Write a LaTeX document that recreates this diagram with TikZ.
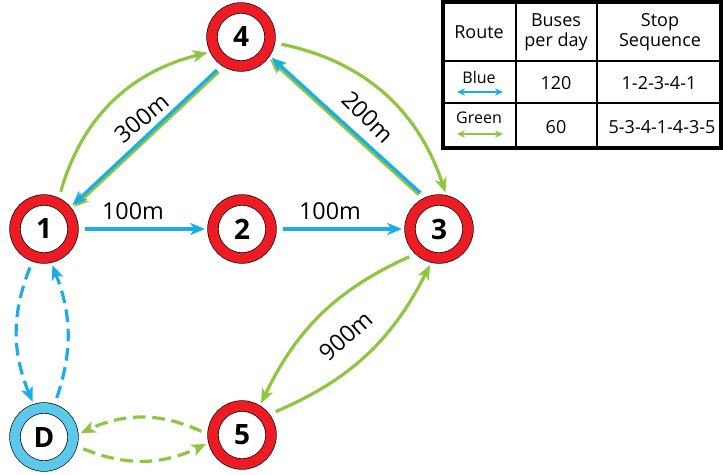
\documentclass[tikz,border=0pt]{standalone}
\usepackage{fontspec}
\setmainfont{Open Sans}
\usetikzlibrary{arrows.meta}
\definecolor{stop-red}{HTML}{ED1C24}
\definecolor{depot-blue}{HTML}{5BC8EC}
\definecolor{route-blue}{HTML}{1AADE6}
\definecolor{route-green}{HTML}{8DC63F}
\tikzset{
    stop-node/.style = {circle, draw=black, line width=0.5pt, double=stop-red, double distance=7.5pt, fill=white, minimum size=43.5pt, inner sep=0pt, outer sep=6pt, font=\fontsize{21}{21}\selectfont\bfseries},
    depot-node/.style = {stop-node, double=depot-blue},
    blue-route/.style = {draw=route-blue, line width=2.4pt, shorten <=3pt, -{Stealth[length=11pt, width=9pt, inset=3pt]}},
    green-route/.style = {blue-route, draw=route-green},
    dashed-route/.style = {dash pattern=on 9.5pt off 5pt},
    dist-label/.style = {inner sep=0pt, font=\fontsize{17.5}{18}\selectfont},
    table-frame/.style = {draw=black, line width=2.6pt},
    table-rule/.style = {draw=black, line width=0.9pt},
    table-text/.style = {inner sep=0pt, align=center, font=\fontsize{13.5}{15}\selectfont},
    legend-text/.style = {inner sep=0pt, font=\fontsize{12}{12}\selectfont},
    legend-arrow/.style = {line width=1.5pt, {Stealth[length=6pt, width=5.5pt]}-{Stealth[length=6pt, width=5.5pt]}},
}
\begin{document}
\begin{tikzpicture}[x=0.75pt, y=-0.75pt]
\useasboundingbox (0,0) rectangle (723,474);

\node[stop-node] (n4) at (241,37) {4};
\node[stop-node] (n1) at (44,229) {1};
\node[stop-node] (n2) at (242,229) {2};
\node[stop-node] (n3) at (439,229) {3};
\node[stop-node] (n5) at (242,435) {5};
\node[depot-node] (nD) at (44,437) {D};

\draw[blue-route] (n1) -- (n2);
\draw[blue-route] (n2) -- (n3);
\draw[green-route, transform canvas={shift={(-1.3pt,-1.3pt)}}] (n3.115) -- (n4.-34);
\draw[blue-route] (n3.115) -- (n4.-34);
\draw[green-route, transform canvas={shift={(1.3pt,-1.3pt)}}] (n4.235) -- (n1.40);
\draw[blue-route] (n4.235) -- (n1.40);
\draw[green-route] (n1.65) to[bend left=30] (n4.205);
\draw[green-route] (n4.-10) to[bend left=30] (n3.80);
\draw[green-route] (n3.225) to[bend right=20] (n5.59);
\draw[green-route] (n5.36) to[bend right=20] (n3.256);
\draw[blue-route, dashed-route] (n1.250) to[bend right=22] (nD.108);
\draw[blue-route, dashed-route] (nD.72) to[bend right=20] (n1.-77);
\draw[green-route, dashed-route] (n5.177) to[bend right=25] (nD.6);
\draw[green-route, dashed-route] (nD.-16) to[bend right=24] (n5.194);

\node[dist-label] (d12) at (133,211) {100m};
\node[dist-label] (d23) at (330,211) {100m};
\node[dist-label, rotate=40] (d14) at (142,118) {300m};
\node[dist-label, rotate=-45] (d34) at (368,117) {200m};
\node[dist-label, rotate=42] (d35) at (346,336) {900m};

\draw[table-rule] (516,2) -- (516,148);
\draw[table-rule] (597,2) -- (597,148);
\draw[table-rule] (443,61) -- (721,61);
\draw[table-rule] (443,103) -- (721,103);
\draw[table-frame] (443,2) rectangle (721,148);

\node[table-text] (h-route) at (479,32) {Route};
\node[table-text] (h-buses) at (556,32) {Buses\\per day};
\node[table-text] (h-stops) at (660,32) {Stop\\Sequence};
\node[legend-text] (blue-name) at (479,78) {Blue};
\coordinate (blue-a) at (457,92);
\coordinate (blue-b) at (503,92);
\draw[legend-arrow, route-blue] (blue-a) -- (blue-b);
\node[table-text] (blue-buses) at (556,83) {120};
\node[table-text] (blue-stops) at (659,83) {1-2-3-4-1};
\node[legend-text] (green-name) at (479,118) {Green};
\coordinate (green-a) at (457,134);
\coordinate (green-b) at (503,134);
\draw[legend-arrow, route-green] (green-a) -- (green-b);
\node[table-text] (green-buses) at (556,127) {60};
\node[table-text] (green-stops) at (662,127) {5-3-4-1-4-3-5};
\end{tikzpicture}
\end{document}
